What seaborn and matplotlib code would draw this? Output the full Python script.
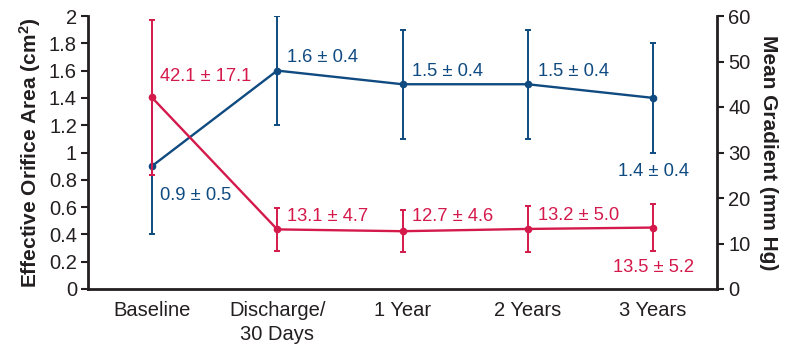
import matplotlib
matplotlib.use("Agg")
import matplotlib.pyplot as plt
import seaborn as sns
import pandas as pd
import numpy as np

# Time points and measurements
timepoints = ["Baseline", "Discharge/\n30 Days", "1 Year", "2 Years", "3 Years"]
eoa_mean = [0.9, 1.6, 1.5, 1.5, 1.4]
eoa_sd = [0.5, 0.4, 0.4, 0.4, 0.4]
grad_mean = [42.1, 13.1, 12.7, 13.2, 13.5]
grad_sd = [17.1, 4.7, 4.6, 5.0, 5.2]

eoa_ticks = [0, 0.2, 0.4, 0.6, 0.8, 1, 1.2, 1.4, 1.6, 1.8, 2]
grad_ticks = [0, 10, 20, 30, 40, 50, 60]

BLUE = "#0f4a80"
RED = "#d4194b"
INK = "#231f20"

sns.set_theme(style="white")
plt.rcParams["font.family"] = ["Liberation Sans", "DejaVu Sans"]

df = pd.DataFrame({
    "pos": np.arange(len(timepoints)),
    "eoa": eoa_mean,
    "eoa_sd": eoa_sd,
    "grad": grad_mean,
    "grad_sd": grad_sd,
})

fig = plt.figure(figsize=(7.86, 3.48), dpi=100)
ax = fig.add_axes([88 / 786, 1 - 289 / 348, (717 - 88) / 786, (289 - 16) / 348])
ax2 = ax.twinx()

lw = 1.7
# Effective orifice area (left axis)
sns.lineplot(data=df, x="pos", y="eoa", ax=ax, color=BLUE, lw=lw,
             marker="o", markersize=5.5, markeredgewidth=0, legend=False)
ax.errorbar(df["pos"], df["eoa"], yerr=df["eoa_sd"], fmt="none",
            ecolor=BLUE, elinewidth=1.4, capsize=2.5, capthick=1.4)

# Mean gradient (right axis)
sns.lineplot(data=df, x="pos", y="grad", ax=ax2, color=RED, lw=lw,
             marker="o", markersize=5.5, markeredgewidth=0, legend=False)
ax2.errorbar(df["pos"], df["grad"], yerr=df["grad_sd"], fmt="none",
             ecolor=RED, elinewidth=1.4, capsize=2.5, capthick=1.4)

ax.set_xlim(-0.51, len(timepoints) - 1 + 0.51)
ax.set_ylim(0, 2)
ax2.set_ylim(0, 60)
ax.set_yticks(eoa_ticks)
ax.set_yticklabels([f"{t:g}" for t in eoa_ticks])
ax2.set_yticks(grad_ticks)
ax2.set_yticklabels([f"{t:g}" for t in grad_ticks])
ax.set_xticks(df["pos"])
ax.set_xticklabels(timepoints)

fs_tick = 14.5
fs_lab = 15
fs_ann = 13.2
for a in (ax, ax2):
    a.tick_params(axis="y", labelsize=fs_tick, colors=INK, length=5, width=1.5,
                  direction="out", pad=3)
    a.tick_params(axis="x", labelsize=fs_tick, colors=INK, length=0, pad=9)
    for s in a.spines.values():
        s.set_color(INK)
        s.set_linewidth(2)
    a.spines["top"].set_visible(False)
    a.grid(False)
ax.spines["right"].set_visible(False)
ax2.spines["left"].set_visible(False)
ax2.spines["bottom"].set_visible(False)
ax.tick_params(axis="y", left=True, right=False)
ax2.tick_params(axis="y", right=True, left=False)
for lbl in ax.get_xticklabels():
    lbl.set_linespacing(1.3)

ax.set_xlabel("")
ax.set_ylabel("Effective Orifice Area (cm$\\mathregular{^2}$)", fontsize=fs_lab,
              fontweight="bold", color=INK, labelpad=4)
ax2.set_ylabel("Mean Gradient (mm Hg)", fontsize=fs_lab, fontweight="bold",
               color=INK, rotation=-90, labelpad=20)

# Value labels, offsets in pixels converted to points
px = 72 / 100
eoa_offsets = [(8, -29, "left"), (10, 13, "left"), (9, 13, "left"),
               (10, 13, "left"), (0, -74, "center")]
grad_offsets = [(8, 21, "left"), (10, 13, "left"), (9, 15, "left"),
                (10, 13, "left"), (0, -40, "center")]
for i, (m, s) in enumerate(zip(eoa_mean, eoa_sd)):
    dx, dy, ha = eoa_offsets[i]
    ax.annotate(f"{m:.1f} ± {s:.1f}", (i, m), xytext=(dx * px, dy * px),
                textcoords="offset points", ha=ha, va="center",
                fontsize=fs_ann, color=BLUE)
for i, (m, s) in enumerate(zip(grad_mean, grad_sd)):
    dx, dy, ha = grad_offsets[i]
    ax2.annotate(f"{m:.1f} ± {s:.1f}", (i, m), xytext=(dx * px, dy * px),
                 textcoords="offset points", ha=ha, va="center",
                 fontsize=fs_ann, color=RED)

fig.savefig("out.png", dpi=100)
